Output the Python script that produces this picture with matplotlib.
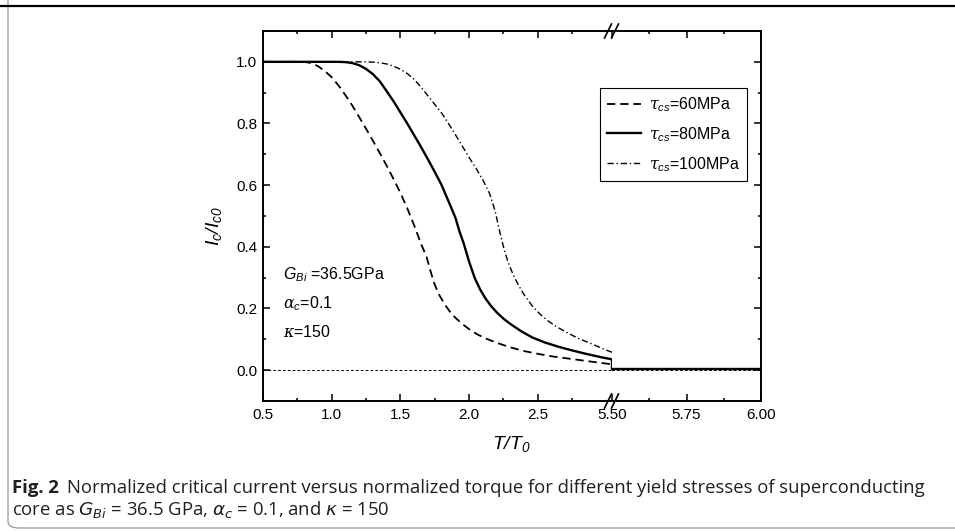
import matplotlib
matplotlib.use('Agg')
import matplotlib.pyplot as plt
from matplotlib.lines import Line2D
from matplotlib.patches import FancyBboxPatch
from matplotlib.ticker import FixedLocator

plt.rcParams['font.family'] = ['Liberation Sans', 'DejaVu Sans']
plt.rcParams['mathtext.fontset'] = 'custom'
plt.rcParams['mathtext.rm'] = 'Liberation Sans'
plt.rcParams['mathtext.it'] = 'DejaVu Serif:italic'
plt.rcParams['mathtext.sf'] = 'Liberation Sans:italic'
plt.rcParams['mathtext.bf'] = 'Liberation Sans:bold'
plt.rcParams['lines.scale_dashes'] = False

# ---------------- data ----------------
x60 = [0.5, 0.80, 0.85, 0.90, 0.95, 1.00, 1.05, 1.10, 1.15, 1.20, 1.25, 1.30, 1.35,
       1.40, 1.45, 1.50, 1.55, 1.60, 1.65, 1.69, 1.72, 1.75, 1.78, 1.82, 1.86, 1.90,
       1.95, 2.00, 2.06, 2.12, 2.20, 2.30, 2.40, 2.50, 2.60, 2.70, 2.80, 2.90, 3.04]
y60 = [1.0, 1.0, 0.996, 0.986, 0.970, 0.950, 0.923, 0.892, 0.858, 0.821, 0.783, 0.744, 0.704,
       0.663, 0.620, 0.575, 0.525, 0.470, 0.410, 0.368, 0.320, 0.277, 0.246, 0.215, 0.190, 0.170,
       0.150, 0.133, 0.116, 0.103, 0.089, 0.074, 0.062, 0.053, 0.045, 0.039, 0.033, 0.027, 0.019]

x80 = [0.5, 1.05, 1.10, 1.15, 1.20, 1.25, 1.30, 1.35, 1.40, 1.45, 1.50, 1.55, 1.60,
       1.65, 1.70, 1.75, 1.80, 1.85, 1.90, 1.93, 1.96, 2.00, 2.04, 2.08, 2.12, 2.16,
       2.20, 2.25, 2.30, 2.38, 2.46, 2.55, 2.65, 2.75, 2.85, 2.95, 3.04, 3.04]
y80 = [1.0, 1.0, 0.999, 0.996, 0.989, 0.977, 0.960, 0.937, 0.905, 0.872, 0.836, 0.800, 0.762,
       0.724, 0.684, 0.643, 0.600, 0.548, 0.495, 0.450, 0.412, 0.352, 0.300, 0.262, 0.232, 0.208,
       0.188, 0.167, 0.150, 0.126, 0.106, 0.090, 0.076, 0.064, 0.053, 0.043, 0.035, 0.004]

x100 = [0.5, 1.25, 1.30, 1.35, 1.40, 1.45, 1.50, 1.55, 1.60, 1.65, 1.70, 1.75, 1.80,
        1.85, 1.90, 1.95, 2.00, 2.05, 2.10, 2.15, 2.19, 2.22, 2.25, 2.28, 2.32, 2.36,
        2.40, 2.46, 2.52, 2.58, 2.64, 2.72, 2.80, 2.90, 2.97, 3.04]
y100 = [1.0, 1.0, 0.999, 0.997, 0.993, 0.986, 0.976, 0.962, 0.943, 0.918, 0.890, 0.862, 0.834,
        0.800, 0.764, 0.727, 0.690, 0.655, 0.617, 0.572, 0.515, 0.455, 0.400, 0.355, 0.310, 0.275,
        0.245, 0.208, 0.180, 0.158, 0.140, 0.120, 0.102, 0.084, 0.070, 0.058]

x_right = [5.5, 6.0]
y60_right = [0.004, 0.004]
y80_right = [0.004, 0.004]
y100_right = [0.004, 0.002]

x_zero = [0.5, 6.0]
y_zero = [0.0, 0.0]

labels = [r'$\tau_{\mathsf{cs}}$=60MPa', r'$\tau_{\mathsf{cs}}$=80MPa', r'$\tau_{\mathsf{cs}}$=100MPa']

xticks_left = [0.5, 1.0, 1.5, 2.0, 2.5]
xticklabels_left = ['0.5', '1.0', '1.5', '2.0', '2.5']
xminor_left = [0.75, 1.25, 1.75, 2.25, 2.75]
xticks_right = [5.5, 5.75, 6.0]
xticklabels_right = ['5.50', '5.75', '6.00']
xminor_right = [5.625, 5.875]
yticks = [0.0, 0.2, 0.4, 0.6, 0.8, 1.0]
yticklabels = ['0.0', '0.2', '0.4', '0.6', '0.8', '1.0']
yminor = [-0.1, 0.1, 0.3, 0.5, 0.7, 0.9, 1.1]

annotations = [r'$\mathsf{G_{Bi}}$ =36.5GPa', r'$\alpha_{\mathsf{c}}$=0.1', r'$\kappa$=150']

caption_bold = 'Fig. 2'
caption_1 = 'Normalized critical current versus normalized torque for different yield stresses of superconducting'
caption_2 = r'core as $G_{Bi}$ = 36.5 GPa, $\alpha_c$ = 0.1, and $\kappa$ = 150'

# ---------------- figure ----------------
W, H = 955, 531
fig = plt.figure(figsize=(W / 100, H / 100), dpi=100)

def fx(px):
    return px / W

def fy(py):
    return 1 - py / H

axL = fig.add_axes([fx(263), fy(401), fx(612) - fx(263), (401 - 31) / H])
axR = fig.add_axes([fx(612), fy(401), fx(761) - fx(612), (401 - 31) / H])

st60 = dict(color='black', lw=1.3, linestyle=(0, (6, 3.5)))
st80 = dict(color='black', lw=1.7, linestyle='-')
st100 = dict(color='black', lw=1.0, linestyle=(0, (4.5, 2, 1, 2)))
stz = dict(color='black', lw=0.7, linestyle=(0, (2, 1.5)))

for ax in (axL, axR):
    ax.plot(x_zero, y_zero, **stz)
axL.plot(x60, y60, **st60)
axL.plot(x80, y80, **st80)
axL.plot(x100, y100, **st100)
axR.plot(x_right, y60_right, **st60)
axR.plot(x_right, y80_right, **st80)
axR.plot(x_right, y100_right, **st100)

axL.set_xlim(0.5, 3.04)
axR.set_xlim(5.5, 6.0)
for ax in (axL, axR):
    ax.set_ylim(-0.1, 1.1)
    for sp in ax.spines.values():
        sp.set_linewidth(1.4)
    ax.tick_params(which='both', direction='in', top=True, width=1.1, labelsize=11, pad=5)
    ax.tick_params(which='major', length=5)
    ax.tick_params(which='minor', length=2.5)

axL.spines['right'].set_visible(False)
axR.spines['left'].set_visible(False)

axL.xaxis.set_major_locator(FixedLocator(xticks_left))
axL.set_xticklabels(xticklabels_left)
axL.xaxis.set_minor_locator(FixedLocator(xminor_left))
axR.xaxis.set_major_locator(FixedLocator(xticks_right))
axR.set_xticklabels(xticklabels_right)
axR.xaxis.set_minor_locator(FixedLocator(xminor_right))

axL.yaxis.set_major_locator(FixedLocator(yticks))
axL.set_yticklabels(yticklabels)
axL.yaxis.set_minor_locator(FixedLocator(yminor))
axL.tick_params(axis='y', which='both', right=False, left=True, pad=4)
axR.yaxis.set_major_locator(FixedLocator(yticks))
axR.yaxis.set_minor_locator(FixedLocator(yminor))
axR.tick_params(axis='y', which='both', left=False, right=True, labelleft=False, labelright=False)

# axis labels
fig.text(fx(214), fy(226), r'$\mathsf{I_c/I_{c0}}$', rotation=90, fontsize=14,
         ha='center', va='center')
fig.text(fx(511), fy(444), r'$\mathsf{T/T_0}$', fontsize=14, ha='center', va='center')

# break marks
for cy in (31, 401):
    for cx in (608, 615):
        fig.add_artist(Line2D([fx(cx - 3.5), fx(cx + 3.5)], [fy(cy + 7), fy(cy - 7)],
                              color='black', lw=1.2, transform=fig.transFigure))

# legend
handles = [Line2D([], [], **st60), Line2D([], [], **st80), Line2D([], [], **st100)]
leg = fig.legend(handles, labels, loc='upper left', bbox_to_anchor=(fx(600), fy(88)),
                 frameon=True, fancybox=False, edgecolor='black', framealpha=1,
                 fontsize=11.5, handlelength=2.1, handletextpad=0.5, labelspacing=0.7,
                 borderpad=0.45, borderaxespad=0)
leg.get_frame().set_linewidth(0.8)

# annotations
for txt, py in zip(annotations, (275, 304, 332)):
    fig.text(fx(283), fy(py), txt, fontsize=11.5, ha='left', va='center')

# outer frame
frame = FancyBboxPatch((fx(8), fy(528)), 1.2, 1.2, transform=fig.transFigure,
                       boxstyle='round,pad=0,rounding_size=0.012', facecolor='none',
                       edgecolor='#9a9a9a', lw=0.9)
fig.add_artist(frame)
fig.add_artist(Line2D([0, 1], [fy(6), fy(6)], color='black', lw=1.6,
                      transform=fig.transFigure))

# caption
cap_fs = 13.3
t1 = fig.text(fx(12), fy(493), caption_bold, fontsize=cap_fs, fontweight='bold',
              family='Open Sans', color='#231f20', va='baseline', ha='left')
t2 = axL.annotate(caption_1, xy=(1, 0), xycoords=t1, xytext=(6, 0),
                  textcoords='offset points', fontsize=cap_fs, family='Open Sans',
                  color='#231f20', va='bottom', ha='left', annotation_clip=False)
fig.text(fx(12), fy(515), caption_2, fontsize=cap_fs, family='Open Sans',
         color='#231f20', va='baseline', ha='left', math_fontfamily='dejavusans')

fig.savefig('out.png', dpi=100)
